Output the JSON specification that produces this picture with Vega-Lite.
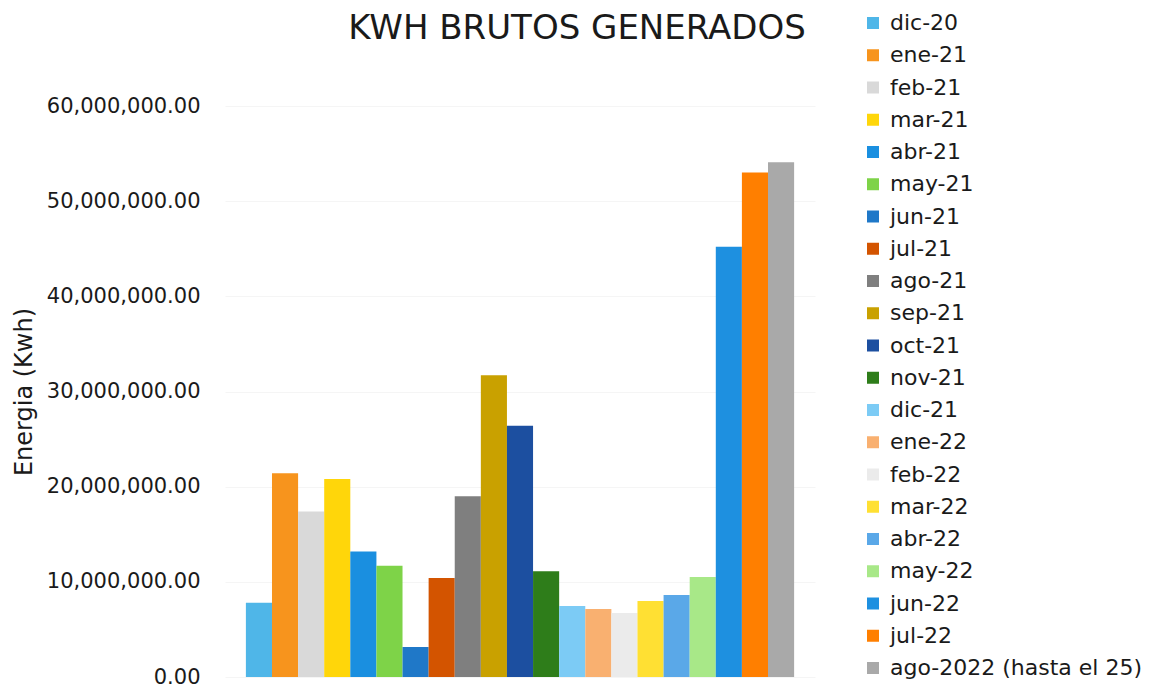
{
  "$schema": "https://vega.github.io/schema/vega-lite/v6.json",
  "autosize": {"type": "none"},
  "width": 590,
  "height": 571,
  "padding": {"left": 225, "top": 106, "right": 356, "bottom": 11},
  "background": "white",
  "view": {"stroke": null},
  "title": {
    "text": "KWH BRUTOS GENERADOS",
    "font": "DejaVu Sans",
    "fontSize": 34,
    "fontWeight": "normal",
    "color": "#1a1a1a",
    "anchor": "middle",
    "frame": "group",
    "dx": 57,
    "offset": 0,
    "dy": 34
  },
  "data": {
    "values": [
      {"mes": "dic-20", "kwh": 7800000},
      {"mes": "ene-21", "kwh": 21400000},
      {"mes": "feb-21", "kwh": 17400000},
      {"mes": "mar-21", "kwh": 20800000},
      {"mes": "abr-21", "kwh": 13200000},
      {"mes": "may-21", "kwh": 11700000},
      {"mes": "jun-21", "kwh": 3150000},
      {"mes": "jul-21", "kwh": 10400000},
      {"mes": "ago-21", "kwh": 19000000},
      {"mes": "sep-21", "kwh": 31700000},
      {"mes": "oct-21", "kwh": 26400000},
      {"mes": "nov-21", "kwh": 11100000},
      {"mes": "dic-21", "kwh": 7460000},
      {"mes": "ene-22", "kwh": 7140000},
      {"mes": "feb-22", "kwh": 6720000},
      {"mes": "mar-22", "kwh": 7980000},
      {"mes": "abr-22", "kwh": 8610000},
      {"mes": "may-22", "kwh": 10500000},
      {"mes": "jun-22", "kwh": 45200000},
      {"mes": "jul-22", "kwh": 53000000},
      {"mes": "ago-2022 (hasta el 25)", "kwh": 54100000}
    ]
  },
  "mark": {"type": "bar", "strokeWidth": 0},
  "encoding": {
    "x": {
      "field": "mes",
      "type": "nominal",
      "sort": null,
      "scale": {"paddingInner": 0, "paddingOuter": 0.8},
      "axis": null
    },
    "y": {
      "field": "kwh",
      "type": "quantitative",
      "scale": {"domain": [0, 60000000]},
      "axis": {
        "title": "Energia (Kwh)",
        "titleFont": "DejaVu Sans",
        "titleFontSize": 24,
        "titleFontWeight": "normal",
        "titleColor": "#1a1a1a",
        "titlePadding": 10,
        "format": ",.2f",
        "values": [0, 10000000, 20000000, 30000000, 40000000, 50000000, 60000000],
        "labelFont": "DejaVu Sans",
        "labelFontSize": 21,
        "labelColor": "#1a1a1a",
        "labelPadding": 25,
        "ticks": false,
        "tickSize": 0,
        "domain": false,
        "grid": true,
        "gridColor": "#f5f5f5"
      }
    },
    "color": {
      "field": "mes",
      "type": "nominal",
      "scale": {
        "domain": ["dic-20", "ene-21", "feb-21", "mar-21", "abr-21", "may-21", "jun-21", "jul-21", "ago-21", "sep-21", "oct-21", "nov-21", "dic-21", "ene-22", "feb-22", "mar-22", "abr-22", "may-22", "jun-22", "jul-22", "ago-2022 (hasta el 25)"],
        "range": ["#4FB6E8", "#F7941D", "#D9D9D9", "#FFD60A", "#1A8FE0", "#7ED348", "#1F78C8", "#D35400", "#7F7F7F", "#C9A100", "#1C4FA0", "#2E7D1A", "#7CCBF5", "#F9B070", "#EBEBEB", "#FFE033", "#5AA8E8", "#A8E888", "#1E90E0", "#FF7F00", "#A9A9A9"]
      },
      "legend": {
        "title": null,
        "orient": "none",
        "legendX": 637,
        "legendY": -94,
        "direction": "vertical",
        "columns": 1,
        "symbolType": "square",
        "symbolSize": 144,
        "symbolStrokeWidth": 0,
        "symbolOpacity": 1,
        "labelFont": "DejaVu Sans",
        "labelFontSize": 22,
        "labelColor": "#1a1a1a",
        "labelOffset": 6,
        "labelLimit": 400,
        "rowPadding": 10.25
      }
    }
  }
}
